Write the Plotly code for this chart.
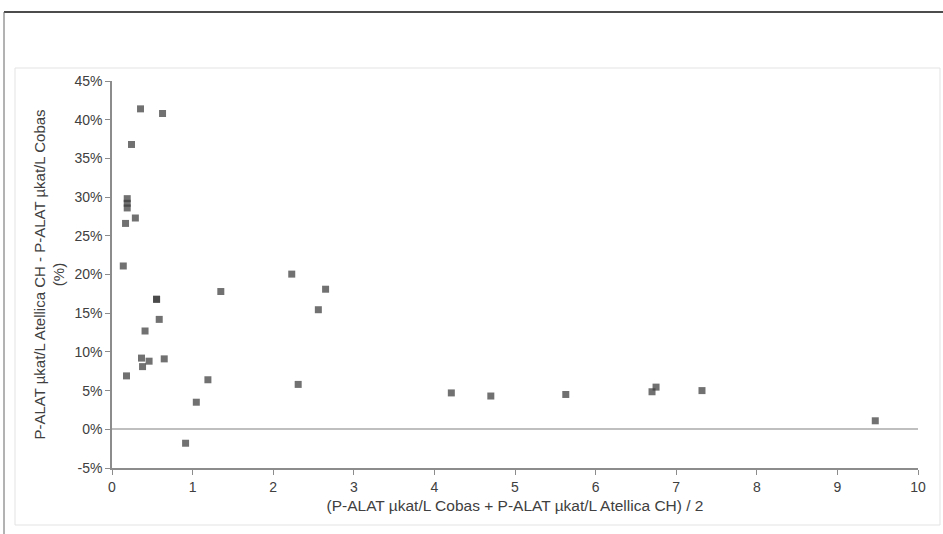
import plotly.graph_objects as go

# Data (mean in µkat/L, difference in %)
mean_vals = [0.354, 0.627, 0.242, 0.189, 0.189, 0.189, 0.29, 0.168, 0.14,
             2.23, 1.35, 2.65, 2.56, 0.553, 0.553, 0.586, 0.41, 0.366, 0.46,
             0.379, 0.648, 0.18, 1.19, 2.31, 1.046, 0.913,
             4.21, 4.70, 5.63, 6.70, 6.75, 7.32, 9.47]
diff_pct = [41.4, 40.8, 36.8, 29.8, 29.2, 28.6, 27.3, 26.6, 21.1,
            20.05, 17.8, 18.1, 15.45, 16.8, 16.8, 14.2, 12.7, 9.2, 8.8,
            8.1, 9.1, 6.9, 6.4, 5.8, 3.5, -1.8,
            4.7, 4.3, 4.5, 4.85, 5.45, 5.0, 1.1]

x_ticks = list(range(0, 11))
y_ticks = list(range(-5, 50, 5))
y_tick_labels = [f"{v}%" for v in y_ticks]

x_title = "(P-ALAT µkat/L Cobas + P-ALAT µkat/L Atellica CH) / 2"
y_title = "P-ALAT µkat/L Atellica CH - P-ALAT µkat/L Cobas<br>(%)"

W, H = 943, 534
L, R, T, B = 112, 25, 81, 66
PW, PH = W - L - R, H - T - B


def px(xp):
    return (xp - L) / PW


def py(yp):
    return (H - B - yp) / PH


fig = go.Figure()
fig.add_trace(go.Scatter(
    x=mean_vals, y=diff_pct, mode="markers",
    marker=dict(symbol="square", size=7, color="rgb(60,60,60)", opacity=0.73,
                line=dict(width=0)),
    showlegend=False, cliponaxis=False,
))

font_family = "Liberation Sans, Arial, sans-serif"

fig.update_layout(
    width=W, height=H,
    margin=dict(l=L, r=R, t=T, b=B, pad=0),
    paper_bgcolor="white", plot_bgcolor="white",
    font=dict(family=font_family, size=13, color="#404040"),
    xaxis=dict(
        range=[0, 10], tickvals=x_ticks, ticktext=[str(v) for v in x_ticks],
        showgrid=False, zeroline=False, showline=True, linecolor="#8c8c8c",
        linewidth=1.5, ticks="outside", ticklen=5, tickcolor="#8c8c8c",
        tickfont=dict(size=14),
        title=dict(text=x_title, font=dict(size=15.5), standoff=7),
    ),
    yaxis=dict(
        range=[-5, 45], tickvals=y_ticks, ticktext=y_tick_labels,
        showgrid=False, zeroline=True, zerolinecolor="#bfbfbf", zerolinewidth=2,
        showline=True, linecolor="#8c8c8c", linewidth=1.5,
        ticks="outside", ticklen=5, tickcolor="#8c8c8c",
        tickfont=dict(size=14),
        title=dict(text=y_title, font=dict(size=15), standoff=6),
    ),
    shapes=[
        dict(type="rect", xref="paper", yref="paper",
             x0=px(15), x1=px(940), y0=py(525), y1=py(68),
             line=dict(color="#e3e3e3", width=1), layer="below"),
        dict(type="line", xref="paper", yref="paper",
             x0=px(4), x1=px(943), y0=py(12), y1=py(12),
             line=dict(color="#111111", width=1.5)),
        dict(type="line", xref="paper", yref="paper",
             x0=px(4), x1=px(4), y0=py(12), y1=py(534),
             line=dict(color="#666666", width=1)),
    ],
)

fig.write_html("out.html")
